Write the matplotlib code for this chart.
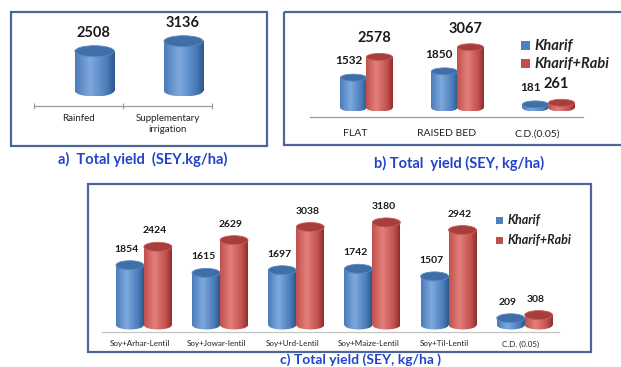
import numpy as np
import matplotlib
matplotlib.use("Agg")
import matplotlib.pyplot as plt
from matplotlib.patches import Rectangle, Ellipse
from matplotlib.colors import LinearSegmentedColormap

# ---- data -------------------------------------------------------------
a_categories = ["Rainfed", "Supplementary\nirrigation"]
a_values = [2508, 3136]

b_categories = ["FLAT", "RAISED BED", "C.D.(0.05)"]
b_kharif = [1532, 1850, 181]
b_kharif_rabi = [2578, 3067, 261]

c_categories = ["Soy+Arhar-Lentil", "Soy+Jowar-lentil", "Soy+Urd-Lentil",
                "Soy+Maize-Lentil", "Soy+Til-Lentil", "C.D. (0.05)"]
c_kharif = [1854, 1615, 1697, 1742, 1507, 209]
c_kharif_rabi = [2424, 2629, 3038, 3180, 2942, 308]

series_names = ["Kharif", "Kharif+Rabi"]

titles = ["a)  Total yield  (SEY.kg/ha)",
          "b) Total  yield (SEY, kg/ha)",
          "c) Total yield (SEY, kg/ha )"]

# ---- style ------------------------------------------------------------
W, H, DPI = 621, 367, 100
FONT = "Lato"
BLUE = dict(edge="#2d5788", light="#7fa9dd", mid="#4a7cba", top="#3f6ea9", rim="#5a88c4", legend="#4f81bd")
RED = dict(edge="#8e2d2b", light="#e3807b", mid="#c0504d", top="#a83e3b", rim="#c85c58", legend="#c0504d")
BOX = "#4d6699"
TITLE = "#2344c8"

plt.rcParams["font.family"] = [FONT, "DejaVu Sans"]

fig = plt.figure(figsize=(W / DPI, H / DPI), dpi=DPI)
fig.patch.set_facecolor("white")

# background layer in pixel coordinates for frames, titles and legends
bg = fig.add_axes([0, 0, 1, 1], zorder=0)
bg.set_xlim(0, W)
bg.set_ylim(H, 0)
bg.axis("off")


def px_axes(l, t, r, b):
    ax = fig.add_axes([l / W, 1 - b / H, (r - l) / W, (b - t) / H], zorder=2)
    ax.patch.set_alpha(0)
    for s in ("top", "right", "left"):
        ax.spines[s].set_visible(False)
    ax.set_yticks([])
    return ax


def cylinder(ax, x, h, width, pal, ell_px, upp):
    """Shaded cylinder standing on y=0; upp = data units per pixel on y."""
    e_h = ell_px * upp
    rect = ax.bar(x, h, width, color="none", edgecolor="none", zorder=2)[0]
    cmap = LinearSegmentedColormap.from_list(
        "cyl", [(0, pal["mid"]), (0.38, pal["light"]), (0.8, pal["mid"]), (1, pal["edge"])])
    grad = np.linspace(0, 1, 128).reshape(1, -1)
    x0, x1 = x - width / 2, x + width / 2
    body = ax.imshow(grad, cmap=cmap, extent=(x0, x1, -e_h / 2, h),
                     aspect="auto", interpolation="bilinear", zorder=2)
    body.set_clip_path(rect)
    bottom = Ellipse((x, 0), width, e_h, facecolor="none", edgecolor="none")
    ax.add_patch(bottom)
    base = ax.imshow(grad, cmap=cmap, extent=(x0, x1, -e_h / 2, h),
                     aspect="auto", interpolation="bilinear", zorder=2)
    base.set_clip_path(bottom)
    ax.add_patch(Ellipse((x, h), width, e_h, facecolor=pal["top"],
                         edgecolor=pal["rim"], linewidth=0.6, zorder=3))


def value_label(ax, x, h, text, ell_px, gap, dx, size):
    ax.annotate(text, (x, h), xytext=(dx, ell_px / 2 + gap),
                textcoords="offset pixels", ha="center", va="bottom",
                fontsize=size, fontweight="bold", color="#1a1a1a", zorder=5)


# ---- frames and titles ------------------------------------------------
for (l, t, r, b) in [(11, 12, 267, 146), (284, 12, 623, 145), (88, 184, 591, 352)]:
    bg.add_patch(Rectangle((l, t), r - l, b - t, fill=False, edgecolor=BOX, linewidth=1.6))

for text, (xc, yc), size in zip(titles, [(143, 159), (459, 163), (360, 360)], [10.5, 10.5, 10]):
    bg.text(xc, yc, text, ha="center", va="center", fontsize=size,
            fontweight="bold", color=TITLE)

# ---- panel a ----------------------------------------------------------
upp_a = 63.0
ax = px_axes(34, 12, 212, 106)
shift_a, w_a, ell_a = 0.18, 0.44, 11
for i, v in enumerate(a_values):
    x = i + 0.5 + shift_a
    cylinder(ax, x, v, w_a, BLUE, ell_a, upp_a)
    value_label(ax, x, v, f"{v}", ell_a, 6, -1, 10.5)
ax.set_xlim(0, 2)
ax.set_ylim(-15 * upp_a, (91 - 12) * upp_a)
ax.set_xticks([0, 1, 2])
ax.set_xticklabels([])
ax.tick_params(axis="x", which="major", direction="inout", length=4.5, width=0.8, color="#9a9a9a")
ax.set_xticks([0.5, 1.5], a_categories, minor=True)
ax.tick_params(axis="x", which="minor", length=0, pad=6, labelsize=7, labelcolor="#222222")
ax.spines["bottom"].set_color("#9a9a9a")
ax.spines["bottom"].set_linewidth(0.9)

# ---- panel b ----------------------------------------------------------
upp_b = 50.5
ax = px_axes(310, 12, 583, 117)
shift_b, w_b, ell_b = 0.12, 0.286, 7
for i, (k, kr) in enumerate(zip(b_kharif, b_kharif_rabi)):
    c = i + 0.5 + shift_b
    cylinder(ax, c - w_b / 2, k, w_b, BLUE, ell_b, upp_b)
    cylinder(ax, c + w_b / 2, kr, w_b, RED, ell_b, upp_b)
    value_label(ax, c - w_b / 2, k, f"{k}", ell_b, 8, -5, 8.5)
    value_label(ax, c + w_b / 2, kr, f"{kr}", ell_b, 8, -5, 10.5)
ax.set_xlim(0, 3)
ax.set_ylim(-9 * upp_b, (108 - 12) * upp_b)
ax.set_xticks([0.5, 1.5, 2.5], b_categories)
ax.tick_params(axis="x", length=0, pad=9, labelsize=7.5, labelcolor="#222222")
ax.spines["bottom"].set_color("#9a9a9a")
ax.spines["bottom"].set_linewidth(0.9)

for name, pal, yc in zip(series_names, [BLUE, RED], [45.5, 63.5]):
    bg.add_patch(Rectangle((521, yc - 4.5), 9, 9, facecolor=pal["legend"], edgecolor="none"))
    bg.text(534, yc, name, ha="left", va="center", fontsize=10.5,
            fontweight="bold", fontstyle="italic", color="#222222")

# ---- panel c ----------------------------------------------------------
upp_c = 31.0
ax = px_axes(102, 184, 559, 332)
shift_c, w_c, ell_c = 0.05, 0.367, 9
for i, (k, kr) in enumerate(zip(c_kharif, c_kharif_rabi)):
    c = i + 0.5 + shift_c
    cylinder(ax, c - w_c / 2, k, w_c, BLUE, ell_c, upp_c)
    cylinder(ax, c + w_c / 2, kr, w_c, RED, ell_c, upp_c)
    value_label(ax, c - w_c / 2, k, f"{k}", ell_c, 7, -3, 7.5)
    value_label(ax, c + w_c / 2, kr, f"{kr}", ell_c, 7, -3, 7.5)
ax.set_xlim(0, 6)
ax.set_ylim(-7 * upp_c, (325 - 184) * upp_c)
ax.set_xticks(np.arange(6) + 0.5, c_categories)
ax.tick_params(axis="x", length=0, pad=6, labelsize=5.8, labelcolor="#222222")
ax.spines["bottom"].set_color("#c4c4c4")
ax.spines["bottom"].set_linewidth(0.9)

for name, pal, yc in zip(series_names, [BLUE, RED], [220, 240]):
    bg.add_patch(Rectangle((496, yc - 3.5), 7, 7, facecolor=pal["legend"], edgecolor="none"))
    bg.text(508, yc, name, ha="left", va="center", fontsize=9,
            fontweight="bold", fontstyle="italic", color="#222222")

fig.savefig("out.png", dpi=DPI, facecolor="white")
